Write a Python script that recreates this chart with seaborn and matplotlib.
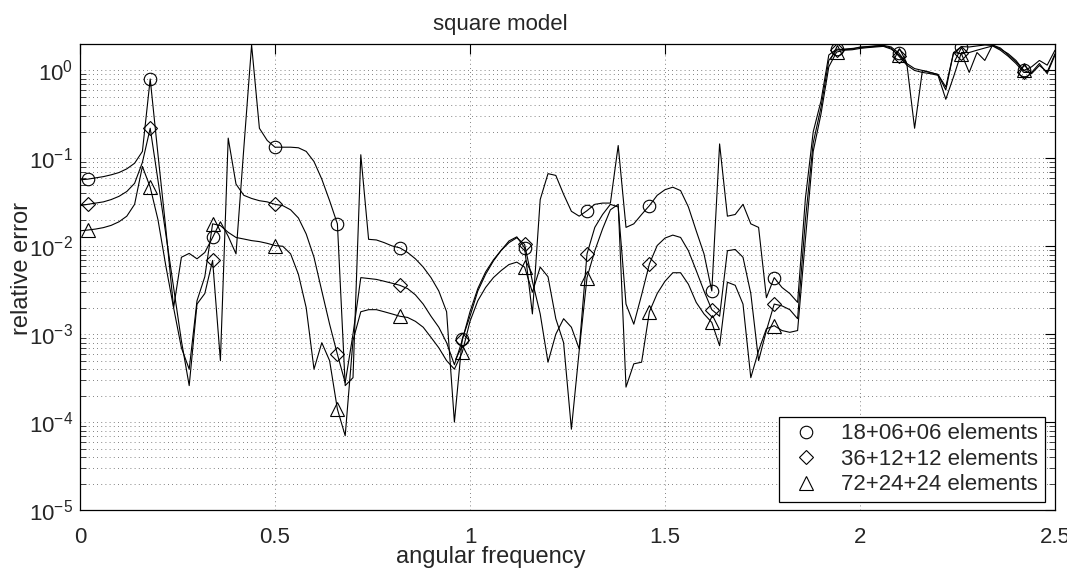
import numpy as np
import matplotlib
matplotlib.use("Agg")
import matplotlib.pyplot as plt
from matplotlib.lines import Line2D
from matplotlib.ticker import LogLocator, NullFormatter, FixedLocator
import seaborn as sns

# ---------------- data ----------------
freq = np.round(np.arange(0, 126) * 0.02, 2)

err_18 = [
    0.057, 0.058, 0.060, 0.062, 0.065, 0.069, 0.076, 0.088, 0.12, 0.80,
    0.11, 0.016, 0.0020, 0.0075, 0.0083, 0.0072, 0.0085, 0.0126, 0.019, 0.013,
    0.0082, 0.13, 1.95, 0.22, 0.16, 0.134, 0.134, 0.134, 0.132, 0.12,
    0.092, 0.058, 0.033, 0.018, 2.6e-4, 3.2e-4, 0.11, 0.012, 0.0118, 0.011,
    0.0101, 0.0096, 0.0085, 0.0072, 0.0058, 0.0044, 0.0031, 0.0018, 1.0e-4, 8.8e-4,
    0.0016, 0.0031, 0.0048, 0.0068, 0.0090, 0.0115, 0.0128, 0.0096, 0.0017, 0.034,
    0.067, 0.064, 0.039, 0.025, 0.022, 0.0254, 0.030, 0.031, 0.031, 0.14,
    0.0164, 0.018, 0.023, 0.029, 0.038, 0.044, 0.047, 0.043, 0.028, 0.015,
    0.0082, 0.0031, 0.146, 0.022, 0.023, 0.030, 0.018, 0.0164, 0.0026, 0.0044,
    0.0034, 0.0029, 0.0023, 0.035, 0.20, 0.45, 1.5, 1.75, 1.73, 1.75,
    1.85, 1.87, 1.91, 1.93, 1.85, 1.57, 1.2, 1.05, 1.0, 0.95,
    0.9, 0.65, 1.6, 1.87, 1.85, 1.9, 1.95, 1.93, 1.75, 1.55,
    1.3, 1.0, 1.1, 1.3, 1.15, 1.7,
]

err_36 = [
    0.029, 0.030, 0.031, 0.032, 0.034, 0.037, 0.042, 0.052, 0.09, 0.22,
    0.056, 0.0138, 0.0034, 8.4e-4, 2.6e-4, 0.0022, 0.0029, 0.0069, 5e-4, 0.17,
    0.051, 0.038, 0.035, 0.033, 0.032, 0.030, 0.029, 0.026, 0.021, 0.0138,
    0.0075, 0.0031, 0.0013, 5.9e-4, 2.8e-4, 1.0e-3, 0.0044, 0.0043, 0.0042, 0.0040,
    0.0038, 0.0036, 0.0033, 0.0028, 0.0022, 0.0016, 0.0012, 8e-4, 4.5e-4, 8.5e-4,
    0.0018, 0.0033, 0.0051, 0.0070, 0.0090, 0.0110, 0.0125, 0.0105, 0.0040, 0.0017,
    4.8e-4, 0.0010, 0.0015, 0.0012, 6.8e-4, 0.0082, 0.0164, 0.023, 0.030, 0.028,
    0.0022, 0.0013, 0.0028, 0.0063, 0.0102, 0.0124, 0.0134, 0.0126, 0.0089, 0.0053,
    0.0031, 0.0019, 0.0016, 0.0089, 0.0092, 0.0075, 0.0029, 5e-4, 0.0011, 0.0022,
    0.0021, 0.0019, 0.0015, 0.02, 0.15, 0.38, 1.3, 1.70, 1.75, 1.78,
    1.82, 1.85, 1.88, 1.9, 1.8, 1.45, 1.15, 1.0, 0.95, 0.92,
    0.88, 0.47, 0.85, 1.6, 1.6, 1.7, 1.8, 1.9, 1.7, 1.45,
    1.2, 0.95, 0.95, 1.2, 0.92, 1.5,
]

err_72 = [
    0.015, 0.0153, 0.0157, 0.0163, 0.0173, 0.019, 0.022, 0.030, 0.081, 0.047,
    0.020, 0.006, 0.002, 7e-4, 4e-4, 0.0024, 0.0045, 0.018, 0.0172, 0.0144,
    0.0126, 0.0121, 0.0116, 0.0113, 0.0108, 0.0102, 0.0100, 0.0082, 0.0048, 0.0020,
    4e-4, 8e-4, 5e-4, 1.4e-4, 7e-5, 8.5e-4, 0.0018, 0.0019, 0.0019, 0.0018,
    0.0017, 0.0016, 0.00155, 0.0014, 0.0012, 9.2e-4, 7e-4, 5e-4, 4e-4, 6.2e-4,
    0.0014, 0.0024, 0.0034, 0.0044, 0.0053, 0.0062, 0.0066, 0.0058, 0.0030, 0.0058,
    0.0045, 0.0015, 8e-4, 8.3e-5, 6.5e-4, 0.0044, 0.0089, 0.0158, 0.026, 0.030,
    2.5e-4, 4.6e-4, 4.8e-4, 0.0018, 0.0029, 0.0040, 0.0050, 0.0050, 0.0037, 0.0023,
    0.0017, 0.00136, 7.4e-4, 0.0039, 0.0036, 0.0022, 3.2e-4, 6.5e-4, 0.00115, 0.00125,
    0.0011, 0.00105, 0.0011, 0.012, 0.12, 0.32, 1.1, 1.62, 1.7, 1.72,
    1.78, 1.82, 1.85, 1.88, 1.75, 1.5, 1.2, 0.22, 1.0, 0.95,
    0.9, 0.6, 1.6, 1.55, 0.95, 1.6, 1.3, 1.95, 1.8, 1.5,
    1.25, 1.0, 0.92, 1.14, 0.96, 1.55,
]

labels = ["18+06+06 elements", "36+12+12 elements", "72+24+24 elements"]
markers = ["o", "D", "^"]
x_ticks = [0, 0.5, 1, 1.5, 2, 2.5]
x_tick_labels = ["0", "0.5", "1", "1.5", "2", "2.5"]

# ---------------- style ----------------
sns.set_style("white")
plt.rcParams["font.family"] = ["Liberation Sans", "DejaVu Sans"]
plt.rcParams["mathtext.fontset"] = "custom"
plt.rcParams["mathtext.rm"] = "Liberation Sans"
plt.rcParams["mathtext.it"] = "Liberation Sans:italic"
plt.rcParams["axes.unicode_minus"] = True

fig = plt.figure(figsize=(10.67, 5.71), dpi=100)
ax = fig.add_axes([80 / 1067, 1 - 510 / 571, 975 / 1067, 466 / 571])

msizes = [9, 7, 10]
for vals, m, ms in zip([err_18, err_36, err_72], markers, msizes):
    sns.lineplot(x=freq, y=vals, ax=ax, color="k", lw=0.8, marker=m,
                 markevery=(1, 8), markerfacecolor="none",
                 markeredgecolor="k", markeredgewidth=0.8, markersize=ms,
                 legend=False, estimator=None, sort=False)

ax.set_yscale("log")
ax.set_xlim(0, 2.5)
ax.set_ylim(1e-5, 2)

ax.xaxis.set_major_locator(FixedLocator(x_ticks))
ax.set_xticklabels(x_tick_labels)
ax.yaxis.set_major_locator(LogLocator(base=10, numticks=10))
ax.yaxis.set_minor_locator(LogLocator(base=10, subs=np.arange(2, 10), numticks=20))
ax.yaxis.set_minor_formatter(NullFormatter())

grid_style = dict(linestyle=(0, (1, 4)), color="0.35", lw=0.6)
ax.grid(True, which="major", axis="both", **grid_style)
ax.grid(True, which="minor", axis="y", **grid_style)

ax.tick_params(axis="both", which="major", direction="in", length=7, width=0.8,
               top=True, right=True, labelsize=16, color="k")
ax.tick_params(axis="x", which="major", pad=12)
ax.tick_params(axis="y", which="major", pad=5)
ax.tick_params(axis="y", which="minor", direction="in", length=4, width=0.6,
               left=True, right=True)
ax.tick_params(axis="x", which="minor", bottom=False, top=False)
for sp in ax.spines.values():
    sp.set_color("k")
    sp.set_linewidth(0.9)
    sp.set_visible(True)

ax.set_xlabel("angular frequency", fontsize=17)
ax.xaxis.set_label_coords((491 - 80) / 975, -0.078)
ax.set_ylabel("relative error", fontsize=17)
ax.yaxis.set_label_coords(-0.048, (510 - 268) / 466)
ax.set_title("square model", fontsize=16, pad=10)
ax.title.set_x((500 - 80) / 975)

handles = [Line2D([], [], ls="none", marker=m, mfc="none", mec="k", mew=0.8, ms=ms)
           for m, ms in zip(markers, msizes)]
leg = ax.legend(handles, labels, loc="lower right",
                bbox_to_anchor=((1045 - 80) / 975, (510 - 502) / 466),
                fontsize=16, frameon=True, fancybox=False, framealpha=1,
                edgecolor="k", borderpad=0.3, labelspacing=0.2,
                handletextpad=0.7, handlelength=1.8, borderaxespad=0)
leg.get_frame().set_linewidth(0.9)

fig.savefig("out.png", dpi=100, facecolor="white")
